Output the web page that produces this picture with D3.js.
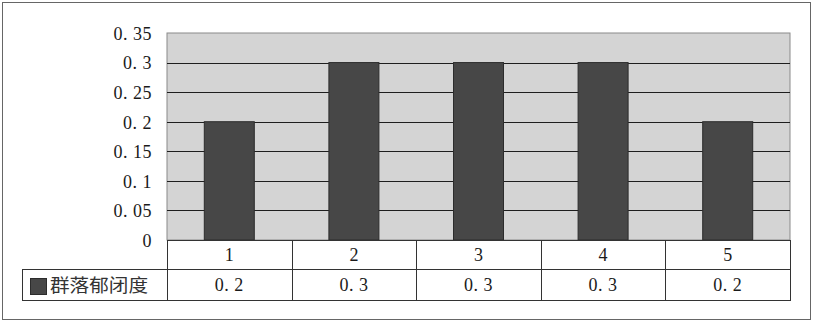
<!DOCTYPE html>
<html lang="zh">
<head>
<meta charset="UTF-8">
<title>群落郁闭度</title>
<script src="https://cdn.jsdelivr.net/npm/d3@7"></script>
<style>
  body { margin: 0; background: #fff; }
  text.num { font-family: "Liberation Serif", "Times New Roman", "DejaVu Serif", serif; fill: #1a1a1a; }
  text.cjk { font-family: "Noto Sans CJK SC", sans-serif; }
</style>
</head>
<body>
<svg id="chart" width="814" height="323"></svg>
<script>
// data
var categories = ["1", "2", "3", "4", "5"];
var values = [0.2, 0.3, 0.3, 0.3, 0.2];
var seriesName = "群落郁闭度";
var yTicks = [0, 0.05, 0.1, 0.15, 0.2, 0.25, 0.3, 0.35];

var svg = d3.select("#chart");
var plot = {left: 167, right: 790, top: 33, bottom: 240};
var row1 = 269, row2 = 300, legendLeft = 22;

// writes "0.35" with a wide gap after the dot, like the original font
function wideDot(sel, fmt) {
  sel.each(function(d) {
    var s = fmt(d), node = d3.select(this).text(null), k = s.indexOf(".");
    if (k < 0) { node.text(s); return; }
    node.append("tspan").text(s.slice(0, k + 1));
    node.append("tspan").attr("dx", 5).text(s.slice(k + 1));
  });
}
var fmtNum = function(d){ return String(+(+d).toFixed(2)); };

// outer frame
svg.append("rect").attr("x", 2.5).attr("y", 2.5).attr("width", 808).attr("height", 317)
  .attr("fill", "#fff").attr("stroke", "#666");

var x = d3.scaleBand().domain(categories).range([plot.left, plot.right]).paddingInner(0).paddingOuter(0);
var y = d3.scaleLinear().domain([0, 0.35]).range([plot.bottom, plot.top]);

// plot background
svg.append("rect").attr("x", plot.left).attr("y", plot.top)
  .attr("width", plot.right - plot.left).attr("height", plot.bottom - plot.top)
  .attr("fill", "#d4d4d4").attr("stroke", "#8a8a8a");

// gridlines
svg.append("g").selectAll("line").data(yTicks.filter(function(d){ return d > 0 && d < 0.35; }))
  .enter().append("line")
  .attr("x1", plot.left).attr("x2", plot.right)
  .attr("y1", function(d){ return Math.round(y(d)) + 0.5; })
  .attr("y2", function(d){ return Math.round(y(d)) + 0.5; })
  .attr("stroke", "#1e1e1e").attr("stroke-width", 1);

// y axis labels
var yAxis = d3.axisLeft(y).tickValues(yTicks).tickSize(0).tickPadding(15).tickFormat(fmtNum);
var ga = svg.append("g").attr("transform", "translate(" + plot.left + ",0)").call(yAxis);
ga.attr("font-family", null).attr("font-size", null);
ga.select(".domain").remove();
ga.selectAll("text").attr("class", "num").attr("font-size", 18).attr("letter-spacing", "0.5px")
  .attr("dy", "0.35em").call(wideDot, fmtNum);

// bars
var bw = 50;
svg.append("g").selectAll("rect").data(values).enter().append("rect")
  .attr("x", function(d, i){ return x(categories[i]) + x.bandwidth() / 2 - bw / 2; })
  .attr("y", function(d){ return y(d); })
  .attr("width", bw)
  .attr("height", function(d){ return plot.bottom - y(d); })
  .attr("fill", "#474747").attr("stroke", "#2c2c2c").attr("stroke-width", 1);

// data table
var t = svg.append("g").attr("stroke", "#333").attr("stroke-width", 1);
t.append("line").attr("x1", plot.left).attr("x2", plot.right).attr("y1", plot.bottom + 0.5).attr("y2", plot.bottom + 0.5);
t.append("line").attr("x1", legendLeft).attr("x2", plot.right).attr("y1", row1 + 0.5).attr("y2", row1 + 0.5);
t.append("line").attr("x1", legendLeft).attr("x2", plot.right).attr("y1", row2 + 0.5).attr("y2", row2 + 0.5);
t.append("line").attr("x1", legendLeft + 0.5).attr("x2", legendLeft + 0.5).attr("y1", row1).attr("y2", row2 + 1);
var bounds = categories.map(function(c){ return x(c); }).concat([plot.right]);
t.selectAll("line.v").data(bounds).enter().append("line").attr("class", "v")
  .attr("x1", function(d){ return Math.round(d) + 0.5; })
  .attr("x2", function(d){ return Math.round(d) + 0.5; })
  .attr("y1", plot.bottom).attr("y2", row2 + 1);

svg.append("g").selectAll("text").data(categories).enter().append("text")
  .attr("class", "num")
  .attr("x", function(d){ return x(d) + x.bandwidth() / 2; })
  .attr("y", (plot.bottom + row1) / 2 + 6)
  .attr("text-anchor", "middle").attr("font-size", 18)
  .text(function(d){ return d; });

svg.append("g").selectAll("text").data(values).enter().append("text")
  .attr("class", "num")
  .attr("x", function(d, i){ return x(categories[i]) + x.bandwidth() / 2; })
  .attr("y", (row1 + row2) / 2 + 6)
  .attr("text-anchor", "middle").attr("font-size", 18).attr("letter-spacing", "0.5px")
  .call(wideDot, fmtNum);

// legend key
svg.append("rect").attr("x", 30.5).attr("y", 278.5).attr("width", 16).attr("height", 16)
  .attr("fill", "#474747").attr("stroke", "#2c2c2c");
svg.append("text").attr("class", "cjk").attr("x", 50).attr("y", 292)
  .attr("font-size", 18).attr("textLength", 98).attr("lengthAdjust", "spacingAndGlyphs")
  .attr("fill", "#333")
  .text(seriesName);
</script>
</body>
</html>
